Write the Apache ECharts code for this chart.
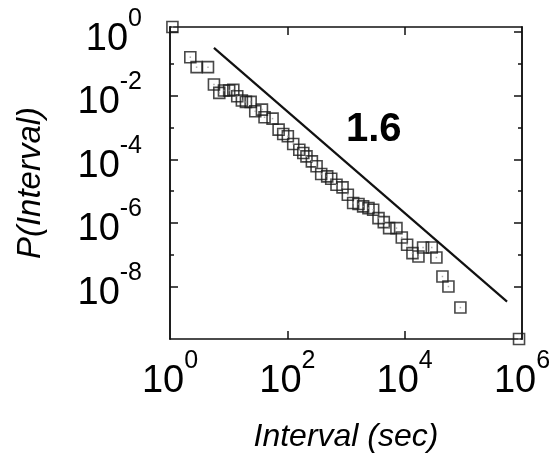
<!DOCTYPE html>
<html>
<head>
<meta charset="utf-8">
<script src="https://cdn.jsdelivr.net/npm/echarts@6/dist/echarts.min.js"></script>
<style>html,body{margin:0;padding:0;background:#fff;}#c{width:556px;height:463px;}</style>
</head>
<body>
<div id="c"></div>
<script>
// Interval (sec) values of the measured points
var intervals = [1.1, 2.22, 2.84, 4.44, 5.61, 6.92, 8.32, 10.2, 12.0, 14.0, 16.8, 19.7, 23.7, 28.4, 36.9, 40.9, 56.0, 71.0, 85.1, 102, 126, 160, 187, 212, 262, 315, 378, 478, 560, 689, 873, 1074, 1324, 1633, 1959, 2415, 2904, 3581, 4406, 5433, 7244, 8933, 11015, 13583, 17179, 20606, 28973, 34754, 44055, 55719, 89125, 890000];
// P(Interval) values
var probs = [1.45, 0.163, 0.0791, 0.0791, 0.0225, 0.0123, 0.0146, 0.0146, 0.0153, 0.00964, 0.00705, 0.00640, 0.00640, 0.00325, 0.00366, 0.00210, 0.00191, 8.59e-4, 6.28e-4, 5.30e-4, 3.04e-4, 2.01e-4, 1.58e-4, 1.24e-4, 8.65e-5, 6.03e-5, 3.45e-5, 2.92e-5, 2.46e-5, 1.59e-5, 1.31e-5, 7.71e-6, 4.22e-6, 3.92e-6, 3.31e-6, 2.93e-6, 2.60e-6, 1.42e-6, 1.06e-6, 6.87e-7, 6.87e-7, 3.49e-7, 2.05e-7, 1.12e-7, 8.81e-8, 1.69e-7, 1.69e-7, 8.18e-8, 2.07e-8, 1.00e-8, 2.18e-9, 2.24e-10];
// Power-law guide line (slope 1.6) end points
var fitX = [5.61, 556000];
var fitY = [0.321, 3.37e-9];
var slopeLabel = '1.6';
// Axis tick values
var xLabelTicks = [1, 100, 10000, 1000000];
var xMajorTicks = [100, 10000];
var yLabelTicks = [1, 1e-2, 1e-4, 1e-6, 1e-8];
var yMinorTicks = [1e-1, 1e-3, 1e-5, 1e-7];
var xRange = [1, 1000000];
var yRange = [2.24e-10, 1.45];

var FONT = '"Liberation Sans", Arial, Helvetica, sans-serif';
var pts = intervals.map(function (x, i) { return [x, probs[i]]; });
var fitPts = fitX.map(function (x, i) { return [x, fitY[i]]; });

function powLabel(v) {
  var e = Math.round(Math.log(v) / Math.LN10);
  return '{b|10}{s|' + e + '}';
}
var rich = {
  b: { fontSize: 38, lineHeight: 52, verticalAlign: 'bottom', fontFamily: FONT, color: '#000' },
  s: { fontSize: 25, lineHeight: 25, verticalAlign: 'top', fontFamily: FONT, color: '#000' }
};
var lineStyle = { color: '#111', width: 1.5 };

function xAx(pos, showLabel, name) {
  return {
    type: 'log', logBase: 10, min: xRange[0], max: xRange[1], position: pos,
    axisLine: { show: true, onZero: false, lineStyle: lineStyle },
    axisTick: { show: true, inside: true, length: 8, lineStyle: lineStyle, customValues: xMajorTicks },
    axisLabel: { show: showLabel, customValues: xLabelTicks, formatter: powLabel, rich: rich, margin: 10 },
    splitLine: { show: false }, minorTick: { show: false },
    name: name, nameLocation: 'middle', nameGap: 82,
    nameTextStyle: { fontSize: 32, fontStyle: 'italic', fontFamily: FONT, color: '#000' }
  };
}
function yAx(pos, ticks, len, showLabel, name) {
  return {
    type: 'log', logBase: 10, min: yRange[0], max: yRange[1], position: pos,
    axisLine: { show: true, onZero: false, lineStyle: lineStyle },
    axisTick: { show: true, inside: true, length: len, lineStyle: lineStyle, customValues: ticks },
    axisLabel: { show: showLabel, customValues: yLabelTicks, formatter: powLabel, rich: rich, margin: 28 },
    splitLine: { show: false }, minorTick: { show: false },
    name: name, nameLocation: 'middle', nameGap: 123, nameRotate: 90,
    nameTextStyle: { fontSize: 33, fontStyle: 'italic', fontFamily: FONT, color: '#000' }
  };
}

var chart = echarts.init(document.getElementById('c'), null, { renderer: 'canvas' });
chart.setOption({
  backgroundColor: '#fff',
  animation: false,
  grid: { left: 170, top: 27, width: 352, height: 312, containLabel: false },
  xAxis: [xAx('bottom', true, 'Interval (sec)'), xAx('top', false, '')],
  yAxis: [
    yAx('left', yLabelTicks, 8, true, 'P(Interval)'),
    yAx('left', yMinorTicks, 4, false, ''),
    yAx('right', yLabelTicks, 8, false, ''),
    yAx('right', yMinorTicks, 4, false, '')
  ],
  series: [
    {
      type: 'line', data: fitPts, xAxisIndex: 0, yAxisIndex: 0, symbol: 'none',
      lineStyle: { color: '#111', width: 2.2 }, silent: true
    },
    {
      type: 'scatter', data: pts, xAxisIndex: 0, yAxisIndex: 0, symbol: 'rect', symbolSize: 11, clip: false,
      itemStyle: { color: 'rgba(0,0,0,0)', borderColor: '#1a1a1a', borderWidth: 1.6 }
    },
    {
      type: 'scatter', data: pts, xAxisIndex: 0, yAxisIndex: 0, symbol: 'rect', symbolSize: 1.5, clip: false,
      itemStyle: { color: '#999' }, silent: true
    }
  ],
  graphic: [{
    type: 'text', left: 346, top: 110,
    style: { text: slopeLabel, fontSize: 40, fontWeight: 'bold', fontFamily: FONT, fill: '#000' }
  }]
});
</script>
</body>
</html>
